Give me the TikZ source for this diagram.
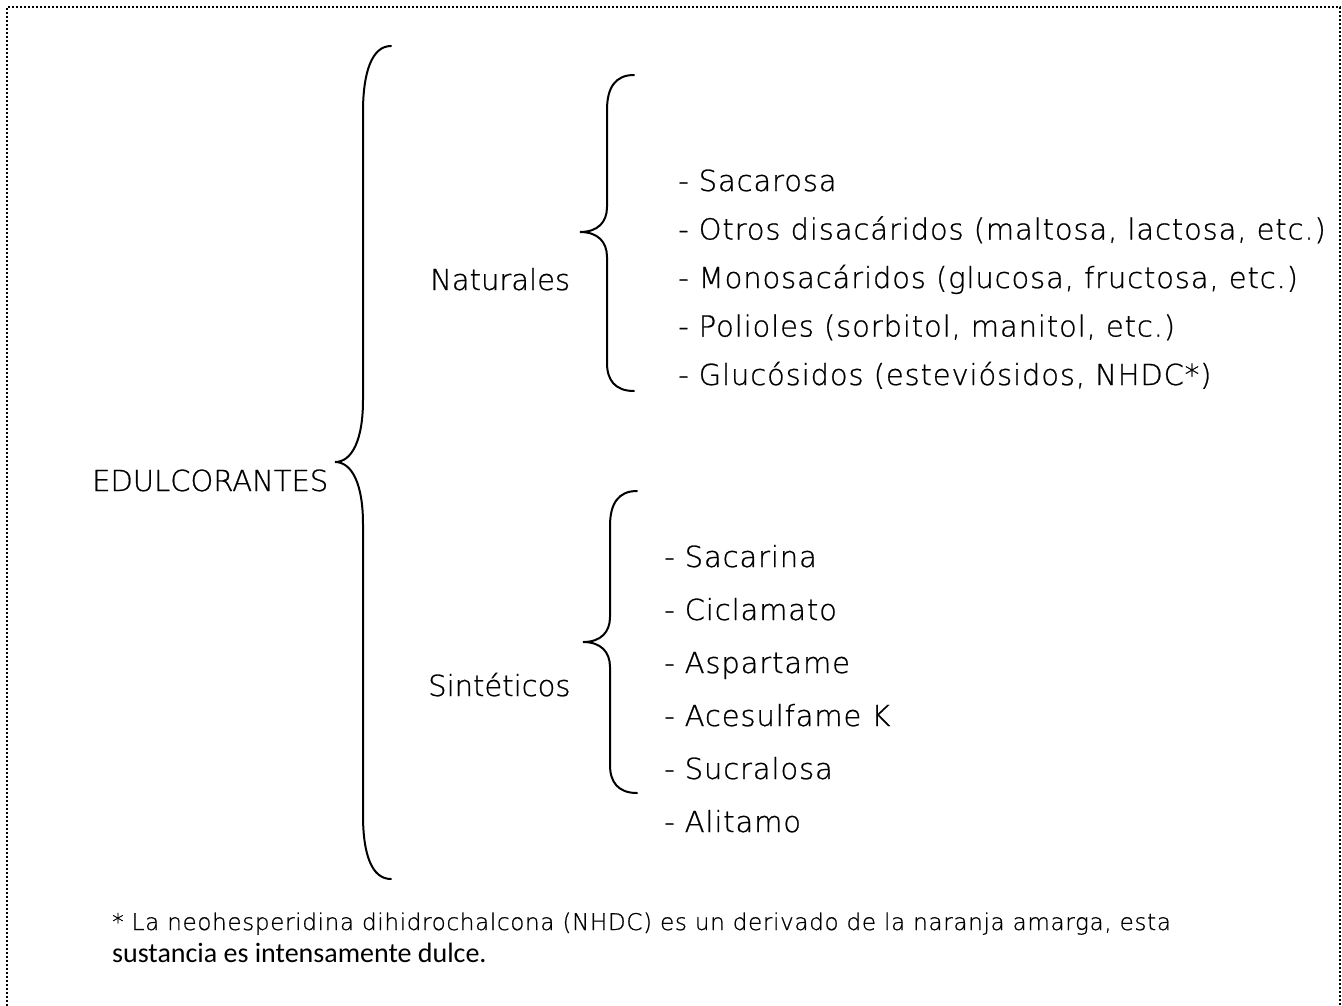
\documentclass[tikz,border=0pt]{standalone}
\usepackage{fontspec}
\setmainfont[FakeBold=0.8]{DejaVu Sans ExtraLight}
\newfontfamily\itemfont[FakeBold=0.8,LetterSpace=3]{DejaVu Sans ExtraLight}
\newfontfamily\notefont{Carlito}
\begin{document}
\begin{tikzpicture}[x=1pt,y=-1pt,
  big/.style={font=\fontsize{29}{34}\selectfont, anchor=base west, inner sep=0pt},
  item/.style={font=\itemfont\fontsize{29}{34}\selectfont, anchor=base west, inner sep=0pt},
  note/.style={font=\itemfont\fontsize{23}{28}\selectfont, anchor=base west, inner sep=0pt},
  note2/.style={font=\notefont\fontsize{28}{32}\selectfont, anchor=base west, inner sep=0pt},
  brace/.style={line width=2pt, line cap=round}]
\useasboundingbox (0,0) rectangle (1342,1005);
\draw[line width=2pt, dash pattern=on 2pt off 2pt] (7,1030) -- (7,7) -- (1340,7) -- (1340,1030);
% big brace
\draw[brace] (391,46) .. controls (372,46) and (363,72) .. (363,112) -- (363,400)
  .. controls (363,440) and (352,462) .. (335,462)
  .. controls (352,462) and (363,484) .. (363,524) -- (363,815)
  .. controls (363,855) and (372,879) .. (391,879);
% naturales brace
\draw[brace] (634,75) .. controls (615,75) and (607,88) .. (607,110) -- (607,207)
  .. controls (607,222) and (598,232) .. (580,232)
  .. controls (598,232) and (607,242) .. (607,257) -- (607,363)
  .. controls (607,380) and (615,391) .. (634,391);
% sinteticos brace
\draw[brace] (637,491) .. controls (618,491) and (610,504) .. (610,526) -- (610,617)
  .. controls (610,632) and (601,642) .. (583,642)
  .. controls (601,642) and (610,652) .. (610,667) -- (610,765)
  .. controls (610,782) and (618,793) .. (637,793);

\node[big] (edul) at (92,491) {EDULCORANTES};
\node[big] (nat) at (430,290) {Naturales};
\node[big] (sin) at (428,696) {Sintéticos};

\node[item] (n1) at (678,191) {- Sacarosa};
\node[item] (n2) at (678,239.5) {- Otros disacáridos (maltosa, lactosa, etc.)};
\node[item] (n3) at (678,288) {- Monosacáridos (glucosa, fructosa, etc.)};
\node[item] (n4) at (678,336.5) {- Polioles (sorbitol, manitol, etc.)};
\node[item] (n5) at (678,385) {- Glucósidos (esteviósidos, NHDC*)};

\node[item] (s1) at (664,567) {- Sacarina};
\node[item] (s2) at (664,620) {- Ciclamato};
\node[item] (s3) at (664,673) {- Aspartame};
\node[item] (s4) at (664,726) {- Acesulfame K};
\node[item] (s5) at (664,779) {- Sucralosa};
\node[item] (s6) at (664,832) {- Alitamo};

\node[note] (f1) at (112,930) {* La neohesperidina dihidrochalcona (NHDC) es un derivado de la naranja amarga, esta};
\node[note2] (f2) at (112,962) {sustancia es intensamente dulce.};
\end{tikzpicture}
\end{document}
